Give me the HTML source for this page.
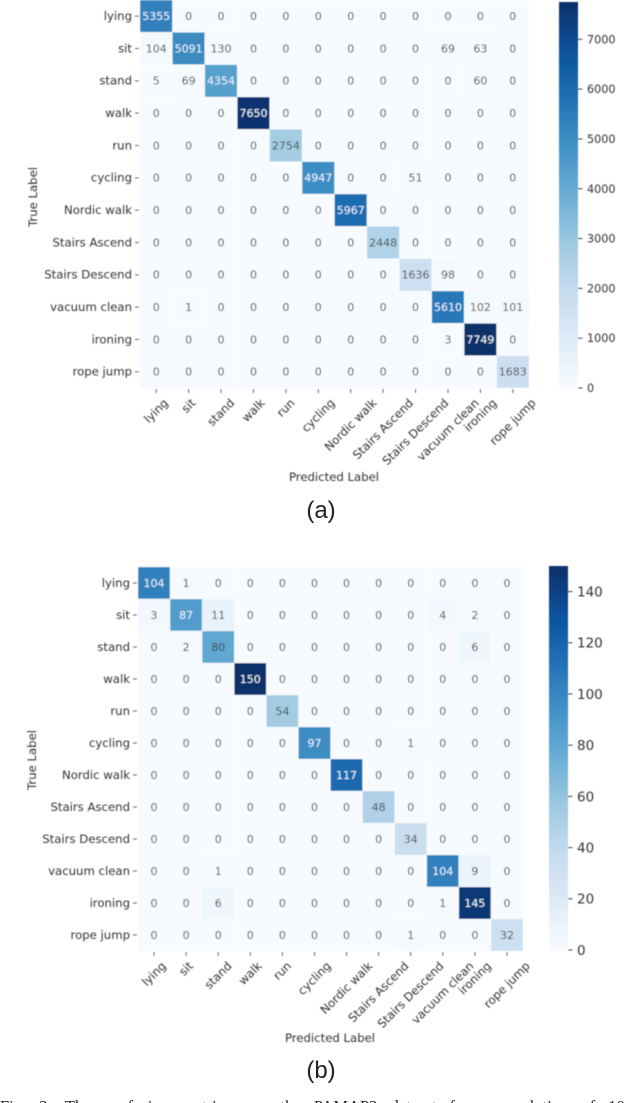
<!DOCTYPE html>
<html>
<head>
<meta charset="utf-8">
<style>
html,body{margin:0;padding:0;background:#fff;}
body{width:640px;height:1103px;overflow:hidden;position:relative;}
svg{position:absolute;left:0;top:0;}
text{font-family:"DejaVu Sans","Liberation Sans",sans-serif;fill:#333;}
</style>
</head>
<body>
<svg id="fig" width="640" height="1103" viewBox="0 0 640 1103" xmlns="http://www.w3.org/2000/svg">
<defs><filter id="soft" x="-5%" y="-5%" width="110%" height="110%"><feGaussianBlur stdDeviation="0.5"/></filter></defs>
<g id="plots" filter="url(#soft)"></g>
<text x="321" y="518" text-anchor="middle" style="font-family:'Liberation Sans',sans-serif;font-size:24px;fill:#222">(a)</text>
<text x="321" y="1078" text-anchor="middle" style="font-family:'Liberation Sans',sans-serif;font-size:24px;fill:#222">(b)</text>
<text x="0" y="1112" style="font-family:'Liberation Serif',serif;font-size:16.5px;fill:#222;word-spacing:9px">Fig. 3: The confusion matrices on the PAMAP2 dataset for a resolution of 10</text>
</svg>
<script>
const categories = ["lying","sit","stand","walk","run","cycling","Nordic walk","Stairs Ascend","Stairs Descend","vacuum clean","ironing","rope jump"];
const matrixA = [
[5355,0,0,0,0,0,0,0,0,0,0,0],
[104,5091,130,0,0,0,0,0,0,69,63,0],
[5,69,4354,0,0,0,0,0,0,0,60,0],
[0,0,0,7650,0,0,0,0,0,0,0,0],
[0,0,0,0,2754,0,0,0,0,0,0,0],
[0,0,0,0,0,4947,0,0,51,0,0,0],
[0,0,0,0,0,0,5967,0,0,0,0,0],
[0,0,0,0,0,0,0,2448,0,0,0,0],
[0,0,0,0,0,0,0,0,1636,98,0,0],
[0,1,0,0,0,0,0,0,0,5610,102,101],
[0,0,0,0,0,0,0,0,0,3,7749,0],
[0,0,0,0,0,0,0,0,0,0,0,1683]
];
const matrixB = [
[104,1,0,0,0,0,0,0,0,0,0,0],
[3,87,11,0,0,0,0,0,0,4,2,0],
[0,2,80,0,0,0,0,0,0,0,6,0],
[0,0,0,150,0,0,0,0,0,0,0,0],
[0,0,0,0,54,0,0,0,0,0,0,0],
[0,0,0,0,0,97,0,0,1,0,0,0],
[0,0,0,0,0,0,117,0,0,0,0,0],
[0,0,0,0,0,0,0,48,0,0,0,0],
[0,0,0,0,0,0,0,0,34,0,0,0],
[0,0,1,0,0,0,0,0,0,104,9,0],
[0,0,6,0,0,0,0,0,0,1,145,0],
[0,0,0,0,0,0,0,0,1,0,0,32]
];
const colorbarTicksA = [0,1000,2000,3000,4000,5000,6000,7000];
const colorbarTicksB = [0,20,40,60,80,100,120,140];
const blues = [[247,251,255],[222,235,247],[198,219,239],[158,202,225],[107,174,214],[66,146,198],[33,113,181],[8,81,156],[8,48,107]];

const NS = "http://www.w3.org/2000/svg";
const root = document.getElementById("plots");

function blueAt(t){
  t = Math.max(0, Math.min(1, t));
  const p = t * (blues.length - 1), i = Math.min(Math.floor(p), blues.length - 2), f = p - i;
  return blues[i].map((c, k) => Math.round(c + (blues[i + 1][k] - c) * f));
}
function css(c){ return "rgb(" + c.join(",") + ")"; }
function make(tag, attrs, parent){
  const el = document.createElementNS(NS, tag);
  for (const k in attrs) el.setAttribute(k, attrs[k]);
  parent.appendChild(el);
  return el;
}

function drawHeatmap(matrix, ticks, g, suffix){
  const group = make("g", {}, root);
  
  
  const vmax = Math.max(...matrix.flat());
  const n = categories.length;
  const xScale = i => g.x + i * (g.w / n);
  const yScale = i => g.y + i * (g.h / n);
  const cw = g.w / n, ch = g.h / n;

  matrix.forEach((row, r) => row.forEach((v, c) => {
    const t = v / vmax;
    const color = blueAt(t);
    const cell = make("rect", {x: xScale(c), y: yScale(r), width: cw, height: ch, fill: css(color), stroke: v === 0 ? "none" : "rgba(255,255,255,.55)", "stroke-width": .6}, group);
    
    
    const lum = (0.2126 * color[0] + 0.7152 * color[1] + 0.0722 * color[2]) / 255;
    const label = make("text", {x: xScale(c) + cw / 2, y: yScale(r) + ch / 2 + 3.9, "text-anchor": "middle", "font-size": 11, style: "fill:" + (lum < 0.6 ? "#e8f2fa" : "#444")}, group);
    label.textContent = v;
    
    
  }));

  categories.forEach((name, i) => {
    const ty = yScale(i) + ch / 2;
    const ytick = make("line", {x1: g.x - 5, x2: g.x - 1, y1: ty, y2: ty, stroke: "#444", "stroke-width": .8}, group);
    
    
    const yl = make("text", {x: g.x - 8, y: ty + 3.8, "text-anchor": "end", "font-size": 11.7}, group);
    yl.textContent = name;
    
    

    const tx = xScale(i) + cw / 2;
    const xtick = make("line", {x1: tx, x2: tx, y1: g.y + g.h + 1, y2: g.y + g.h + 5, stroke: "#444", "stroke-width": .8}, group);
    
    
    const xl = make("text", {"text-anchor": "middle", "font-size": 11.7}, group);
    xl.textContent = name;
    
    
    const half = xl.getComputedTextLength() * Math.SQRT1_2 / 2 + 4;
    const cy = g.y + g.h + 9 + half;
    xl.setAttribute("transform", "translate(" + tx + "," + cy + ") rotate(-45) translate(0,3.8)");
  });

  const xt = make("text", {x: g.x + g.w / 2 - 0.5, y: g.xTitleY, "text-anchor": "middle", "font-size": 11.7}, group);
  xt.textContent = "Predicted Label";
  
  
  const yt = make("text", {"text-anchor": "middle", "font-size": 11.7, transform: "translate(" + g.yTitleX + "," + g.yTitleY + ") rotate(-90)"}, group);
  yt.textContent = "True Label";
  
  

  const barY = v => g.by + g.bh - (v / vmax) * g.bh;
  const bar = make("g", {}, group);
  
  
  const steps = 120;
  for (let s = 0; s < steps; s++) {
    const v0 = vmax * s / steps, v1 = vmax * (s + 1) / steps;
    const band = make("rect", {x: g.bx, y: barY(v1), width: g.bw, height: barY(v0) - barY(v1) + .4, fill: css(blueAt((s + .5) / steps))}, bar);
    
    
  }
  ticks.forEach(v => {
    const ty = barY(v);
    const tick = make("line", {x1: g.bx + g.bw, x2: g.bx + g.bw + 4.5, y1: ty, y2: ty, stroke: "#333", "stroke-width": .9}, bar);
    
    
    const tl = make("text", {x: g.bx + g.bw + 9, y: ty + g.bf * .36, "font-size": g.bf}, bar);
    tl.textContent = v;
    
    
  });
}

drawHeatmap(matrixA, colorbarTicksA, {x:140,y:0,w:389,h:388,bx:559,bw:19,by:2,bh:386,bf:11.2,xTitleY:481,yTitleX:37,yTitleY:197}, "a");
drawHeatmap(matrixB, colorbarTicksB, {x:138,y:567,w:385,h:384,bx:549,bw:19,by:566,bh:384,bf:13.5,xTitleY:1042,yTitleX:36,yTitleY:760}, "b");
</script>
</body>
</html>
